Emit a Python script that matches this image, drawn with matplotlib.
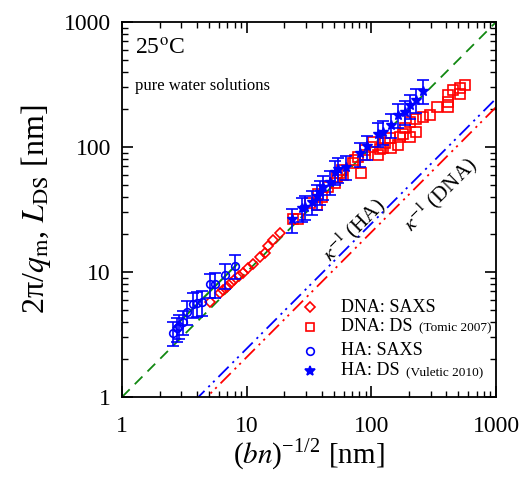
import numpy as np
import matplotlib
matplotlib.use('Agg')
import matplotlib.pyplot as plt

plt.rcParams['font.family'] = ['Liberation Serif', 'DejaVu Serif']
plt.rcParams['mathtext.fontset'] = 'stix'

# DNA: SAXS (diamonds)
dna_saxs_x = [5.08, 6.11, 6.5, 6.9, 7.44, 7.91, 8.67, 9.4, 10.3, 11.3, 12.8, 14.0, 14.9, 16.3, 18.5]
dna_saxs_y = [5.8, 6.83, 7.18, 7.63, 8.11, 8.63, 9.29, 9.87, 10.7, 11.5, 13.3, 14.3, 16.1, 18.0, 20.4]

# DNA: DS (squares, Tomic 2007)
dna_ds_x = [23.6, 26.0, 32.2, 36.8, 37.5, 39.9, 45.1, 51.0, 52.6, 56.0, 57.8, 59.6,
            71.6, 74.4, 78.5, 82.0, 88.9, 88.9, 100.5, 103.8, 114, 117, 124, 128,
            140, 145, 164, 169, 180, 186, 204, 204, 230, 230, 260, 295, 334, 414,
            414, 414, 454, 514, 514, 563]
dna_ds_y = [26.4, 26.4, 35.4, 34.4, 42.4, 39.9, 48.1, 51.2, 57.9, 62.0, 65.5, 59.5,
            74.3, 78.5, 83.7, 62.0, 86.5, 95.2, 100.5, 110, 86.5, 96, 98, 107,
            117, 98, 103, 121, 128, 141, 121, 159, 133, 169, 174, 181, 210, 210,
            230, 260, 286, 268, 294, 313]

# HA: SAXS (circles)
ha_saxs_x = [2.55, 2.75, 2.88, 3.07, 3.34, 3.73, 3.97, 4.35, 5.08, 5.57, 6.7, 8.06]
ha_saxs_y = [3.27, 3.54, 3.70, 4.0, 4.81, 5.52, 5.62, 5.73, 7.95, 8.0, 9.46, 11.2]
ha_saxs_err = 0.22

# HA: DS (stars, Vuletic 2010)
ha_ds_x = [23.0, 27.6, 29.4, 33.2, 36.5, 38.7, 41.1, 46.5, 51.2, 54.4, 63, 81,
           91.5, 114, 124, 145, 164, 186, 204, 230, 260]
ha_ds_y = [26.4, 32.3, 33.4, 36.6, 40.5, 43.8, 48.1, 52.7, 63.5, 66.4, 69.5, 89,
           101, 128, 133, 150, 181, 191, 215, 239, 281]
ha_ds_err = 0.22

# Debye lengths kappa^-1 = x / c
c_ha = 4.1
c_dna = 4.8

fig = plt.figure(figsize=(5.23, 4.79), dpi=100)
ax = fig.add_axes([0.2333, 0.1712, 0.7151, 0.7828])

xl = np.array([1, 1000])
ax.plot(xl, xl, color='#118811', ls=(0, (6, 4)), lw=1.3, zorder=1)
ax.plot(xl, xl / c_ha, color='blue', ls=(0, (8, 3, 1.2, 2.5, 1.2, 3)), lw=1.3)
ax.plot(xl, xl / c_dna, color='red', ls=(0, (8, 3, 1.2, 2.5, 1.2, 3)), lw=1.3)
xs = np.array([2.6, 8.3])
ax.plot(xs, 1.38 * xs, color='#118811', lw=1.5, zorder=1)

ax.plot(dna_saxs_x, dna_saxs_y, ls='none', marker='D', ms=5, mfc='none', mec='red', mew=1.2)
ax.plot(dna_ds_x, dna_ds_y, ls='none', marker='s', ms=6.5, mfc='none', mec='red', mew=1.2)

hy = np.array(ha_saxs_y)
ax.errorbar(ha_saxs_x, hy, yerr=ha_saxs_err * hy, ls='none', marker='o', ms=5.5,
            mfc='none', mec='blue', mew=1.2, ecolor='blue', elinewidth=1.2, capsize=4, capthick=1.2)
hy2 = np.array(ha_ds_y)
ax.errorbar(ha_ds_x, hy2, yerr=ha_ds_err * hy2, ls='none', marker='*', ms=7,
            mfc='blue', mec='blue', ecolor='blue', elinewidth=1.2, capsize=4, capthick=1.2)

ax.set_xscale('log')
ax.set_yscale('log')
ax.set_xlim(1, 1000)
ax.set_ylim(1, 1000)
ax.set_xticks([1, 10, 100, 1000])
ax.set_xticklabels(['1', '10', '100', '1000'])
ax.set_yticks([1, 10, 100, 1000])
ax.set_yticklabels(['1', '10', '100', '1000'])
ax.tick_params(which='both', direction='in', top=True, right=True, labelsize=17)
ax.tick_params(which='major', length=8, width=1.2)
ax.tick_params(axis='x', which='major', pad=14)
ax.tick_params(axis='y', which='major', pad=8)
ax.tick_params(which='minor', length=4.5, width=1.0)
for s in ax.spines.values():
    s.set_linewidth(1.3)

ax.set_xlabel('($bn$)$^{\\mathregular{-1/2}}$ [nm]', fontsize=21, labelpad=0)
ax.set_ylabel('2π/$q_{\\rm m}$, $L_{\\rm DS}$ [nm]', fontsize=23, labelpad=8)

ax.text(0.035, 0.955, '25$^{\\rm o}$C', transform=ax.transAxes, fontsize=17, va='top')
ax.text(0.035, 0.85, 'pure water solutions', transform=ax.transAxes, fontsize=12, va='top')

ax.text(0.62, 0.445, '$\\kappa^{-1}$ (HA)', transform=ax.transAxes, fontsize=15,
        rotation=45, ha='center', va='center')
ax.text(0.85, 0.54, '$\\kappa^{-1}$ (DNA)', transform=ax.transAxes, fontsize=15,
        rotation=45, ha='center', va='center')

# legend
leg = [('D', 'none', 5, 'red', 'DNA: SAXS', '', 0.240),
       ('s', 'none', 5.5, 'red', 'DNA: DS', '(Tomic 2007)', 0.187),
       ('o', 'none', 5.5, 'blue', 'HA: SAXS', '', 0.123),
       ('*', 'blue', 7, 'blue', 'HA: DS', '(Vuletic 2010)', 0.070)]
for m, fc, ms, col, lab, ref, yy in leg:
    ax.plot([0.503], [yy], transform=ax.transAxes, marker=m, ms=ms, mfc=fc, mec=col, mew=1.2, ls='none')
    t = ax.text(0.585, yy, lab, transform=ax.transAxes, fontsize=13, va='center')
    if ref:
        ax.annotate(ref, xy=(1, 0.5), xycoords=t, xytext=(5, -1), textcoords='offset points',
                    fontsize=9.5, va='center')

fig.savefig('out.png', dpi=100)
